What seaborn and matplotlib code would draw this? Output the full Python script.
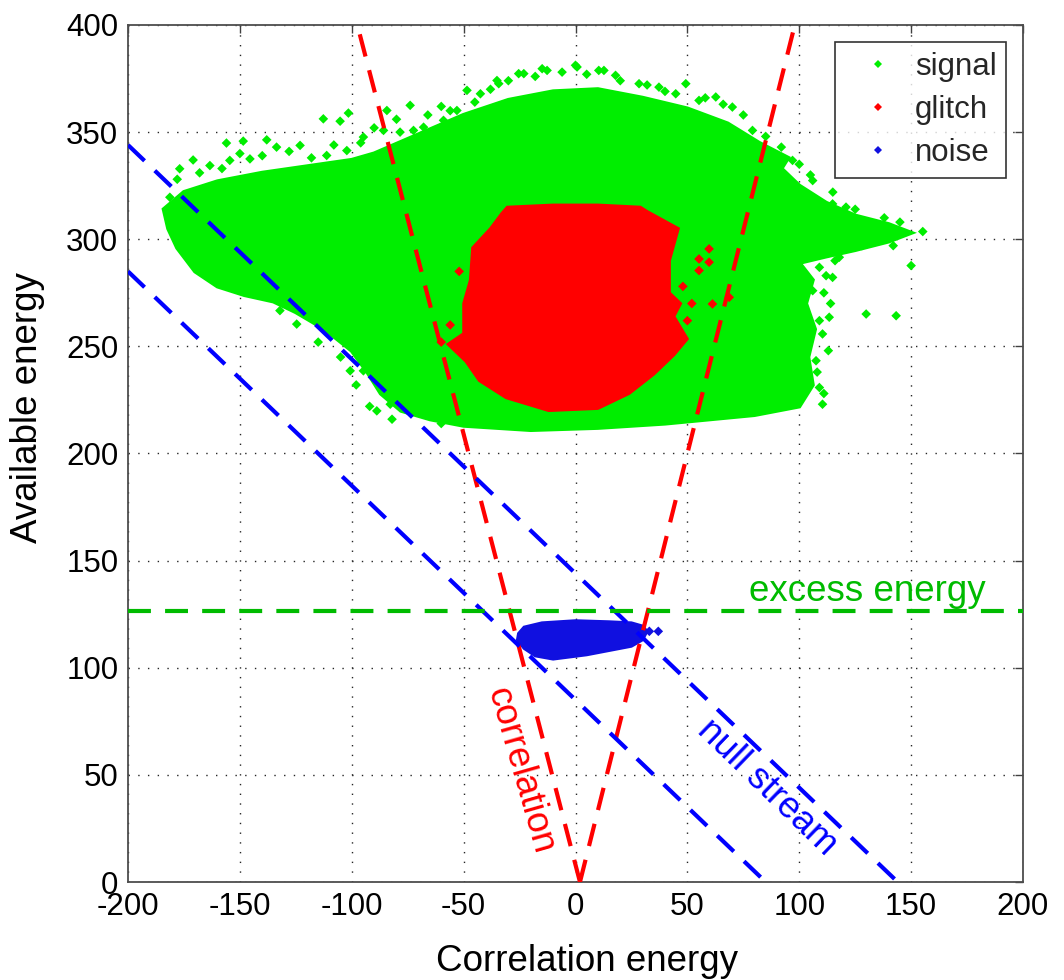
import matplotlib
matplotlib.use("Agg")
import matplotlib.pyplot as plt
import numpy as np
import pandas as pd
import seaborn as sns

# ---------------- data ----------------
x_ticks = [-200, -150, -100, -50, 0, 50, 100, 150, 200]
x_tick_labels = ["-200", "-150", "-100", "-50", "0", "50", "100", "150", "200"]
y_ticks = [0, 50, 100, 150, 200, 250, 300, 350, 400]
y_tick_labels = ["0", "50", "100", "150", "200", "250", "300", "350", "400"]

# dense part of the "signal" cloud (outline)
signal_core_x = [-184, -182, -178, -170, -160, -148, -135, -125, -112, -100, -93, -87, -78, -65, -50,
                 -20, 10, 40, 60, 80, 100, 106, 104, 107, 103, 106, 100, 112, 125, 140, 150, 140, 125, 112, 100,
                 92, 95, 82, 68, 50, 30, 10, -10, -30, -50, -70, -90, -100, -120, -140, -160, -175]
signal_core_y = [314, 305, 296, 285, 278, 274, 271, 266, 258, 248, 238, 228, 220, 216, 213,
                 211, 212, 214, 216, 218, 222, 232, 245, 258, 270, 281, 289, 292, 295, 299, 303, 307, 311, 317, 325,
                 333, 338, 345, 354, 361, 366, 370, 369, 365, 358, 349, 340, 337, 334, 331, 327, 322]

# sparse fringe points of the "signal" cloud
signal_x = [-112.7, -105.2, -101.5, -84.3, -73.9, -56, -138, -148.5, -156, -170.9, -176.9, -163.4,
            -154.5, -145.5, -133.6, -123.1, -111.2, -102.2, -94.8, -85.8, -78.4, -72.4, -67.9, -59,
            -181.3, -179.9, -173.9, -167.9, -161.9, -154.5, -150, -154.5, -175.4, -169.4,
            155.2, 150, 129.9, 143.3, 120.9, 114.9, 106, 109, 114.9, 117.9, 106, 113.4, 110.4, 107.5,
            109, 110.4, 100, 97, 100, 95.5, 92.5, 85, 70.1, 62.7, 55.2, 44.8, 37.3, 28.4, 17.9, 10.4,
            0, -14.9, -25.4, -34.3, 79.1, 88.1, 97, 49.3, -23.1, -12.7, 0.7, 12.7, -35.1, -42.5, -48.5,
            -53, -124.6, -132.1, -106.7, -94.8, -87.3, -79.9, -72.4, -88.8, -82.8, -100.7,
            -178, -168, -158, -150, -140, -128, -118, -108, -96, -90, -80, -66, -60, -45,
            -38, -30, -18, -6, 5, 20, 32, 40, 58, 66, 75, 85, 92, 100, 105, 115, 125, 138, 145,
            112, 111, 114, 109, 113, 108, 111, 116, 120, 128, 138, 142,
            -115, -105, -98, -92, -82, -60]
signal_y = [356.2, 355.1, 358.9, 360.1, 362.5, 360, 346.4, 345.8, 344.9, 337, 332.9, 334.4,
            336.8, 337.5, 343, 343.8, 339.1, 341.4, 347.7, 350.8, 350, 350.8, 352.3, 355.5,
            319.6, 313.4, 308.7, 316.5, 324.3, 325.9, 318.1, 310.3, 300.9, 291.6,
            303.6, 287.7, 265.1, 264.3, 315, 316.5, 327.4, 286.9, 282.2, 291.6, 276, 263.6, 255.8, 243.3,
            230.8, 223, 226.2, 240.2, 252.6, 266.7, 279.1, 288.5, 361.7, 366.4, 364.8, 367.9, 371, 372.6,
            376.5, 378.8, 381.2, 379.6, 377.3, 372.6, 350.8, 339.9, 336.8, 372.6, 377.3, 378.8, 380.4,
            378.8, 374.1, 367.9, 369.5, 360.1, 260.4, 266.7, 257.3, 238.6, 230.8, 224.6, 219.9, 219.9,
            223, 238.6,
            328, 331, 333, 340, 339, 341, 338, 344, 345, 352, 356, 358, 362, 364,
            370, 374, 376, 378, 377, 374, 372, 369, 366, 363, 358, 348, 343, 335, 330, 322, 314, 310, 308,
            283, 275, 270, 262, 248, 238, 228, 290, 296, 297, 303, 297,
            252, 245, 232, 222, 216, 214]

# dense "glitch" cloud (outline) and a few stray points
glitch_core_x = [-30.5, -10, 10, 29, 32, 46, 42, 42, 47, 44, 50, 44, 35, 24, 10, -12, -31, -43,
                 -49, -57, -50, -50, -47, -46, -38, -33]
glitch_core_y = [315, 316, 316, 315, 313, 305, 290, 275, 270, 264, 253.5, 246, 237, 228, 221, 220,
                 226, 234, 243, 251, 256, 270, 281, 296, 305, 312]
glitch_x = [59.7, 55.2, 59.7, 68.7, 61.2, 55.2, 52, 50, -60, -56, -52, 48]
glitch_y = [295.5, 290.8, 289.3, 272.9, 269.8, 285.4, 270, 262, 252, 260, 285, 278]

# dense "noise" cloud (outline) and stray points
noise_core_x = [-25.5, -23, -15, 0, 15, 25, 30, 32, 30, 25, 15, 5, -10, -18, -23, -26]
noise_core_y = [116, 119, 121, 122, 121.5, 121, 119.5, 117, 113, 110, 108, 106, 104, 105.5, 109, 113]
noise_x = [37, 33]
noise_y = [117, 117]

# discriminating lines
corr_left_x, corr_left_y = [2, -97.5], [0, 400]
corr_right_x, corr_right_y = [2, 98], [0, 400]
null1_x, null1_y = [-200, 144], [344, 0]
null2_x, null2_y = [-200, 85], [285, 0]
excess_x, excess_y = [-200, 200], [126.5, 126.5]

# ---------------- style ----------------
sns.set_style("white")
plt.rcParams["font.family"] = ["Liberation Sans", "DejaVu Sans"]
plt.rcParams["axes.unicode_minus"] = False

C_SIGNAL = "#00ee00"
C_GLITCH = "#ff0000"
C_NOISE = "#1010e0"
C_GREEN_LINE = "#00bb00"

fig = plt.figure(figsize=(10.64, 9.8), dpi=100)
ax = fig.add_axes([128 / 1064, 1 - 882 / 980, 895 / 1064, 857 / 980])

# dense clouds
ax.fill(signal_core_x, signal_core_y, color=C_SIGNAL, lw=3, zorder=2)
ax.fill(glitch_core_x, glitch_core_y, color=C_GLITCH, lw=2, zorder=3)
ax.fill(noise_core_x, noise_core_y, color=C_NOISE, lw=2, zorder=3)

# stray points
df = pd.DataFrame({
    "x": signal_x + glitch_x + noise_x,
    "y": signal_y + glitch_y + noise_y,
    "class": ["signal"] * len(signal_x) + ["glitch"] * len(glitch_x) + ["noise"] * len(noise_x),
})
sns.scatterplot(data=df, x="x", y="y", hue="class", hue_order=["signal", "glitch", "noise"],
                palette={"signal": C_SIGNAL, "glitch": C_GLITCH, "noise": C_NOISE},
                marker="D", s=24, linewidth=0, ax=ax, zorder=2.5)

# lines
dash = (5.5, 3.4)
ax.plot(corr_left_x, corr_left_y, color="#ff0000", lw=3, dashes=dash, zorder=5)
ax.plot(corr_right_x, corr_right_y, color="#ff0000", lw=3, dashes=dash, zorder=5)
ax.plot(null1_x, null1_y, color="#0000ff", lw=3, dashes=dash, zorder=5)
ax.plot(null2_x, null2_y, color="#0000ff", lw=3, dashes=dash, zorder=5)
ax.plot(excess_x, excess_y, color=C_GREEN_LINE, lw=3, dashes=dash, zorder=5)

# annotations
ax.text(130.5, 131, "excess energy", color=C_GREEN_LINE, fontsize=26.5, ha="center", va="baseline", zorder=6)
ax.text(-24.8, 51.8, "correlation", color="#ff0000", fontsize=26.5, ha="center", va="center",
        rotation=-74, rotation_mode="anchor", zorder=6)
ax.text(85.5, 43.9, "null stream", color="#0000ff", fontsize=26.5, ha="center", va="center",
        rotation=-44, rotation_mode="anchor", zorder=6)

# axes
ax.set_xlim(-200, 200)
ax.set_ylim(0, 400)
ax.set_xticks(x_ticks)
ax.set_xticklabels(x_tick_labels)
ax.set_yticks(y_ticks)
ax.set_yticklabels(y_tick_labels)
ax.tick_params(direction="in", length=6, width=1, top=True, right=True, labelsize=22.5,
               pad=7, color="0.25", labelcolor="black")
ax.grid(True, color="0.15", linestyle=(0, (1, 6)), linewidth=1)
ax.set_axisbelow(True)
for sp in ax.spines.values():
    sp.set_color("0.3")
    sp.set_linewidth(1.3)

ax.set_xlabel("Correlation energy", fontsize=26.5, color="black")
ax.set_ylabel("Available energy", fontsize=26.5, color="black")
ax.xaxis.set_label_coords(0.513, -0.072)
ax.yaxis.set_label_coords(-0.093, 0.554)

handles, labels = ax.get_legend_handles_labels()
leg = ax.legend(handles=handles, labels=labels, loc="upper right", bbox_to_anchor=(0.981, 0.980),
                borderaxespad=0, fontsize=22.5, frameon=True, fancybox=False, edgecolor="black",
                handlelength=2.15, handletextpad=0.12, labelspacing=0.43, borderpad=0.3, markerscale=0.9)
leg.get_frame().set_linewidth(1.2)
leg.set_zorder(10)

fig.savefig("out.png", dpi=100, facecolor="white")
